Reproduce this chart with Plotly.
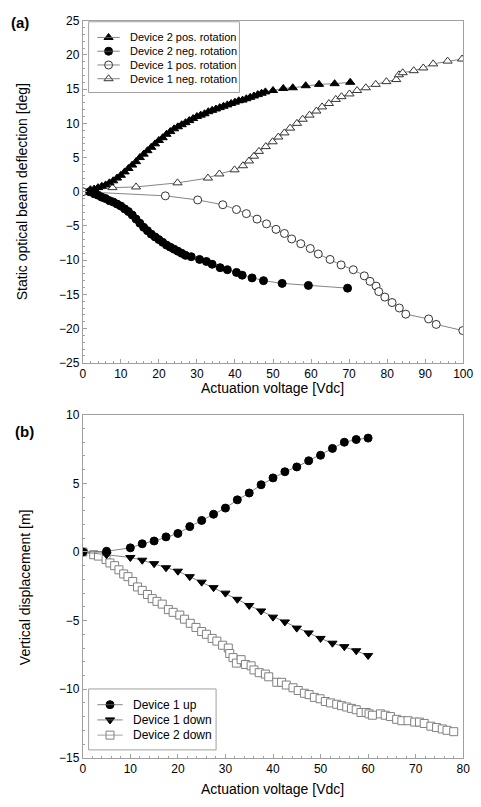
import plotly.graph_objects as go

# ---------- Panel (a) data ----------
d2pos_x = [2, 3, 4, 5, 6, 7, 8, 9, 10, 11, 12, 13, 14, 15, 16, 17, 18, 19, 20, 21, 22, 23, 24, 25,
           26, 27, 28, 29, 30, 31, 32, 33, 34, 35, 36, 37, 38, 39, 40, 41, 42, 43, 44, 45, 46, 47, 48,
           50, 52.7, 55.2, 58.6, 62.1, 66.2, 70.3]
d2pos_y = [0.3, 0.4, 0.6, 0.8, 1.0, 1.3, 1.6, 2.0, 2.4, 2.9, 3.4, 3.9, 4.4, 5.0, 5.5, 6.0, 6.5, 7.0,
           7.5, 7.9, 8.4, 8.8, 9.2, 9.5, 9.8, 10.1, 10.4, 10.7, 11.0, 11.2, 11.4, 11.7, 11.9, 12.1,
           12.3, 12.5, 12.7, 12.9, 13.1, 13.3, 13.4, 13.6, 13.8, 14.0, 14.2, 14.4, 14.6,
           14.8, 15.1, 15.2, 15.5, 15.7, 15.8, 16.0]

d2neg_x = [1.8, 3, 4, 5, 6, 7, 8, 9, 10, 11, 12, 13, 14, 15, 16, 17, 18, 19, 20, 21, 22, 23, 24, 25,
           26, 27, 28.5, 30.7, 32.5, 34, 36.1, 38, 40.4, 41.9, 44.5, 47.5, 52.4, 59.3, 69.6]
d2neg_y = [0.0, -0.3, -0.5, -0.8, -1.0, -1.3, -1.5, -1.8, -2.1, -2.5, -2.9, -3.4, -4.0, -4.6, -5.2,
           -5.7, -6.2, -6.6, -7.0, -7.4, -7.8, -8.1, -8.4, -8.7, -9.0, -9.3, -9.5, -9.9, -10.2,
           -10.6, -11.1, -11.4, -11.8, -12.2, -12.6, -13.0, -13.4, -13.7, -14.1]

d1pos_x = [0, 21.7, 30.2, 36.8, 40.4, 43.0, 45.8, 48.3, 50.8, 53.0, 54.9, 57.3, 59.8, 61.9, 65.0,
           67.9, 71.1, 74.0, 75.5, 77.1, 77.8, 79.4, 81.3, 83.2, 84.9, 90.9, 92.9, 99.9]
d1pos_y = [0.0, -0.6, -1.2, -1.9, -2.6, -3.2, -4.0, -4.7, -5.5, -6.1, -6.9, -7.6, -8.3, -9.1, -9.9,
           -10.7, -11.4, -12.3, -13.1, -13.8, -14.6, -15.4, -16.2, -17.0, -17.9, -18.6, -19.4, -20.3]

d1neg_x = [0, 7.8, 14.0, 24.9, 32.9, 35.9, 39.9, 42.1, 43.7, 45.0, 46.3, 48.1, 49.9, 51.4, 53.0,
           54.5, 56.3, 57.8, 59.6, 61.4, 62.9, 64.7, 66.5, 68.0, 70.1, 72.1, 74.4, 77.0, 79.8,
           82.4, 83.1, 84.1, 87.0, 89.5, 92.1, 95.9, 99.7]
d1neg_y = [0.0, 0.6, 0.7, 1.3, 2.0, 2.6, 3.2, 3.8, 4.5, 5.2, 5.9, 6.6, 7.3, 8.0, 8.6, 9.3, 10.0,
           10.6, 11.2, 11.8, 12.4, 12.9, 13.5, 13.9, 14.3, 14.8, 15.2, 15.7, 16.1, 16.4, 17.1,
           17.4, 17.7, 18.1, 18.7, 19.1, 19.4]

# ---------- Panel (b) data ----------
d1up_x = [0, 5, 10, 12.5, 15, 17.5, 20, 22.5, 25, 27.5, 30, 32.5, 35, 37.5, 40, 42.5, 45, 47.5,
          50, 52.5, 55, 57.5, 60]
d1up_y = [0.0, 0.05, 0.3, 0.6, 0.8, 1.1, 1.35, 1.85, 2.3, 2.75, 3.2, 3.8, 4.3, 4.9, 5.4, 5.85,
          6.2, 6.65, 7.05, 7.55, 8.0, 8.2, 8.3]

d1down_x = [0, 5, 10, 12.5, 15, 17.5, 20, 22.5, 25, 27.5, 30, 32.5, 35, 37.5, 40, 42.5, 45, 47.5,
            50, 52.5, 55, 57.5, 60]
d1down_y = [0.0, -0.2, -0.4, -0.6, -0.85, -1.15, -1.4, -1.8, -2.2, -2.6, -3.0, -3.45, -3.9, -4.3,
            -4.75, -5.1, -5.55, -5.9, -6.3, -6.65, -6.9, -7.2, -7.55]

d2down_x = [0, 2.3, 3.3, 4.9, 5.7, 6.7, 7.6, 8.6, 9.5, 10.5, 11.5, 12.5, 13.6, 14.6, 15.6, 16.7,
            18.0, 19.0, 20.4, 21.4, 22.6, 23.8, 25.0, 26.0, 27.2, 28.2, 29.4, 30.6, 30.9, 31.6,
            32.3, 33.3, 34.2, 35.4, 36.0, 37.1, 38.4, 39.1, 40.8, 41.8, 42.8, 44.2, 45.3, 46.6,
            47.6, 48.7, 49.9, 51.0, 52.1, 53.4, 54.4, 55.5, 56.5, 57.5, 58.5, 59.6, 60.2, 60.9,
            62.6, 63.6, 64.7, 66.0, 67.1, 68.4, 69.8, 70.8, 71.8, 73.2, 74.4, 75.6, 76.6, 78.0]
d2down_y = [0.0, -0.2, -0.3, -0.55, -0.8, -1.0, -1.3, -1.6, -1.8, -2.15, -2.55, -2.8, -3.1, -3.4,
            -3.6, -3.8, -4.2, -4.4, -4.6, -4.9, -5.2, -5.5, -5.8, -6.0, -6.3, -6.5, -6.8, -7.0,
            -7.4, -7.7, -8.1, -7.85, -8.2, -8.3, -8.6, -8.8, -8.9, -9.1, -9.5, -9.5, -9.7, -9.9,
            -10.1, -10.3, -10.4, -10.6, -10.7, -10.9, -11.0, -11.1, -11.2, -11.3, -11.4, -11.5,
            -11.7, -11.7, -11.8, -11.9, -11.8, -11.9, -12.0, -12.2, -12.3, -12.3, -12.4, -12.4,
            -12.5, -12.7, -12.8, -12.9, -13.0, -13.1]

FONT = "Liberation Sans, Arial, Helvetica, sans-serif"
LINE_COLOR = "#666666"
FRAME = "#a0a0a0"
W, H = 481, 807

fig = go.Figure()

# series styles: (name, symbol, fill, edge, line colour)
STY = {
    "d2pos": ("Device 2 pos. rotation", "triangle-up", "black", "black", LINE_COLOR),
    "d2neg": ("Device 2 neg. rotation", "circle", "black", "black", LINE_COLOR),
    "d1pos": ("Device 1 pos. rotation", "circle", "white", "#333333", LINE_COLOR),
    "d1neg": ("Device 1 neg. rotation", "triangle-up", "white", "#333333", LINE_COLOR),
    "d1up": ("Device 1 up", "circle", "black", "black", LINE_COLOR),
    "d1down": ("Device 1 down", "triangle-down", "black", "black", LINE_COLOR),
    "d2down": ("Device 2 down", "square", "white", "#808080", "#8a8a8a"),
}

def add(x, y, key, xa, ya):
    name, sym, fill, edge, lc = STY[key]
    fig.add_trace(go.Scatter(
        x=x, y=y, name=name, mode="lines+markers", xaxis=xa, yaxis=ya, showlegend=False,
        line=dict(color=lc, width=0.8),
        marker=dict(symbol=sym, size=8, color=fill, line=dict(color=edge, width=1)),
    ))

add(d1neg_x, d1neg_y, "d1neg", "x", "y")
add(d1pos_x, d1pos_y, "d1pos", "x", "y")
add(d2neg_x, d2neg_y, "d2neg", "x", "y")
add(d2pos_x, d2pos_y, "d2pos", "x", "y")

add(d2down_x, d2down_y, "d2down", "x2", "y2")
add(d1down_x, d1down_y, "d1down", "x2", "y2")
add(d1up_x, d1up_y, "d1up", "x2", "y2")

def px_x(p):
    return p / W
def px_y(p):
    return 1 - p / H

axis_common = dict(
    showline=True, linecolor=FRAME, linewidth=1, mirror=True,
    ticks="inside", ticklen=4, tickcolor=FRAME, tickwidth=1,
    showgrid=False, zeroline=False,
    tickfont=dict(family=FONT, size=12, color="black"),
)
minor = dict(ticks="inside", ticklen=2, tickcolor=FRAME, tickwidth=1, showgrid=False)

fig.update_layout(
    width=W, height=H,
    margin=dict(l=0, r=0, t=0, b=0),
    paper_bgcolor="white", plot_bgcolor="rgba(0,0,0,0)",
    font=dict(family=FONT, size=12, color="black"),
    showlegend=False,
    hovermode=False,
    xaxis=dict(domain=[px_x(82), px_x(473)], anchor="y", range=[0, 100], dtick=10,
               minor=dict(dtick=2, **minor), **axis_common),
    yaxis=dict(domain=[px_y(362), px_y(14)], anchor="x", range=[-25, 25], dtick=5,
               minor=dict(dtick=1, **minor), **axis_common),
    xaxis2=dict(domain=[px_x(82), px_x(473)], anchor="y2", range=[0, 80], dtick=10,
                minor=dict(dtick=2, **minor), **axis_common),
    yaxis2=dict(domain=[px_y(764), px_y(415)], anchor="x2", range=[-15, 10], dtick=5,
                minor=dict(dtick=1, **minor), **axis_common),
    # invisible page-pixel overlay used only to lay out the two legend boxes
    xaxis3=dict(domain=[0, 1], anchor="y3", range=[0, W], visible=False, fixedrange=True),
    yaxis3=dict(domain=[0, 1], anchor="x3", range=[H, 0], visible=False, fixedrange=True),
)

# ---------- hand-made legends (tight row spacing like the original) ----------
LEGENDS = [
    dict(box=(88, 15, 243, 87), row0=31, step=14, lx0=97, lx1=120, tx=128, fs=11,
         keys=["d2pos", "d2neg", "d1pos", "d1neg"]),
    dict(box=(88, 694, 219, 756), row0=710, step=15.5, lx0=97, lx1=123, tx=132, fs=12,
         keys=["d1up", "d1down", "d2down"]),
]

shapes = []
annotations = []
for lg in LEGENDS:
    x0, y0, x1, y1 = lg["box"]
    shapes.append(dict(type="rect", xref="x3", yref="y3", x0=x0, y0=y0, x1=x1, y1=y1,
                       line=dict(color=FRAME, width=1), fillcolor="white", layer="below"))
    for i, key in enumerate(lg["keys"]):
        name, sym, fill, edge, lc = STY[key]
        ry = lg["row0"] + i * lg["step"]
        shapes.append(dict(type="line", xref="x3", yref="y3", x0=lg["lx0"], x1=lg["lx1"],
                           y0=ry, y1=ry, line=dict(color=lc, width=0.8)))
        fig.add_trace(go.Scatter(
            x=[(lg["lx0"] + lg["lx1"]) / 2], y=[ry], mode="markers", xaxis="x3", yaxis="y3",
            showlegend=False, hoverinfo="skip",
            marker=dict(symbol=sym, size=8, color=fill, line=dict(color=edge, width=1)),
        ))
        annotations.append(dict(text=name, xref="x3", yref="y3", x=lg["tx"], y=ry,
                                xanchor="left", yanchor="middle", showarrow=False,
                                font=dict(family=FONT, size=lg["fs"], color="black")))

labels = [
    dict(text="<b>(a)</b>", x=px_x(6), y=px_y(16), xanchor="left", yanchor="middle",
         font=dict(size=15)),
    dict(text="<b>(b)</b>", x=px_x(10), y=px_y(432), xanchor="left", yanchor="middle",
         font=dict(size=15)),
    dict(text="Actuation voltage [Vdc]", x=px_x(277), y=px_y(388), xanchor="center",
         yanchor="middle", font=dict(size=14)),
    dict(text="Actuation voltage [Vdc]", x=px_x(277), y=px_y(796), xanchor="center",
         yanchor="middle", font=dict(size=14)),
    dict(text="Static optical beam deflection [deg]", x=px_x(19), y=px_y(188), textangle=-90,
         xanchor="center", yanchor="middle", font=dict(size=14)),
    dict(text="Vertical displacement [m]", x=px_x(22), y=px_y(590), textangle=-90,
         xanchor="center", yanchor="middle", font=dict(size=14)),
]
for a in labels:
    a.update(xref="paper", yref="paper", showarrow=False)
    a["font"].update(family=FONT, color="black")
    annotations.append(a)

fig.update_layout(shapes=shapes, annotations=annotations)

fig.write_html("out.html", config={"displayModeBar": False},
               post_script="document.body.style.margin='0';document.body.style.overflow='hidden';")
